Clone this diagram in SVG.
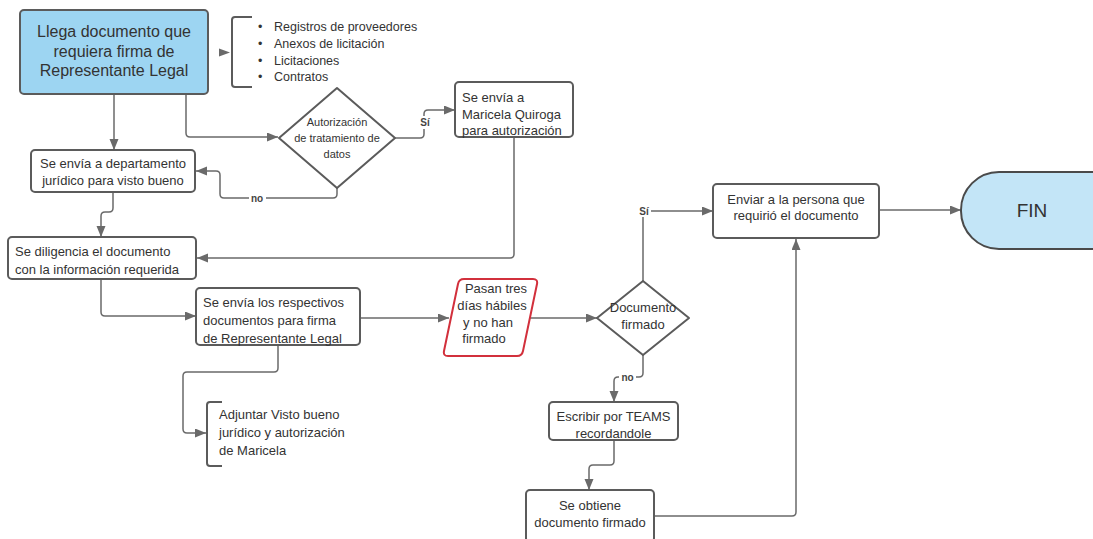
<svg xmlns="http://www.w3.org/2000/svg" width="1093" height="539" viewBox="0 0 1093 539">
<defs>
<style>
.box{fill:#fff;stroke:#5b5b5b;stroke-width:2}
.t{font-family:"Liberation Sans",Arial,sans-serif;font-size:13px;fill:#333}
.c{text-anchor:middle}
.conn path{fill:none;stroke:#6a6a6a;stroke-width:1.5}
.arr path{marker-end:url(#ah)}
.lbl{font-family:"Liberation Sans",Arial,sans-serif;font-size:10px;font-weight:bold;fill:#444;text-anchor:middle}
</style>
<marker id="ah" markerUnits="userSpaceOnUse" markerWidth="12" markerHeight="10" refX="11" refY="4.5" orient="auto">
<path d="M0,0 L11,4.5 L0,9 Z" fill="#6a6a6a"/>
</marker>
</defs>
<rect width="1093" height="539" fill="#fff"/>

<g id="connectors" class="conn">
<g class="arr">
<path d="M114,94 V150"/>
<path d="M186,94 V133 Q186,137 190,137 H278"/>
<path d="M395,138 H420 Q424,138 424,134 V114 Q424,110 428,110 H455"/>
<path d="M337,188 V194 Q337,198 333,198 H224 Q220,198 220,194 V175 Q220,171 216,171 H196"/>
<path d="M113,192 V208 Q113,212 109,212 H105 Q101,212 101,216 V237"/>
<path d="M514,137 V254 Q514,258 510,258 H197"/>
<path d="M101,279 V312 Q101,316 105,316 H196"/>
<path d="M360,318 H449"/>
<path d="M530,318 H597"/>
<path d="M643,281 V215 Q643,211 647,211 H713"/>
<path d="M643,355 V373 Q643,377 639,377 H618 Q614,377 614,381 V402"/>
<path d="M614,440 V461 Q614,465 610,465 H593 Q589,465 589,469 V490"/>
<path d="M655,516 H792 Q796,516 796,512 V239"/>
<path d="M879,210 H961"/>
<path d="M278,345 V368 Q278,372 274,372 H187 Q183,372 183,376 V429 Q183,433 187,433 H206"/>
</g>
<polygon points="219,48.5 230,52.5 219,56.5" fill="#6a6a6a"/>
<rect x="418" y="116" width="14" height="13" fill="#fff"/>
<text class="lbl" x="425" y="126">Sí</text>
<rect x="249" y="192" width="17" height="12" fill="#fff"/>
<text class="lbl" x="257" y="202">no</text>
<rect x="637" y="205" width="14" height="12" fill="#fff"/>
<text class="lbl" x="644" y="214.5">Sí</text>
<rect x="619" y="371" width="17" height="12" fill="#fff"/>
<text class="lbl" x="627.5" y="381">no</text>
</g>

<g id="n-inicio">
<rect x="20" y="10" width="188" height="84" rx="4" fill="#9dd5f2" stroke="#5b5b5b" stroke-width="2"/>
<text class="t c" style="font-size:16px" x="114" y="37">Llega documento que</text>
<text class="t c" style="font-size:16px" x="114" y="56.5">requiera firma de</text>
<text class="t c" style="font-size:16px" x="114" y="76">Representante Legal</text>
</g>

<g id="n-lista">
<path d="M252,17 H235 Q232,17 232,20 V84 Q232,87 235,87 H252" fill="none" stroke="#5b5b5b" stroke-width="2"/>
<g class="t" style="font-size:12.5px">
<text x="258" y="31">•</text><text x="274" y="31">Registros de proveedores</text>
<text x="258" y="48">•</text><text x="274" y="48">Anexos de licitación</text>
<text x="258" y="64.5">•</text><text x="274" y="64.5">Licitaciones</text>
<text x="258" y="81">•</text><text x="274" y="81">Contratos</text>
</g>
</g>

<g id="n-autorizacion">
<polygon points="337,88 395,138 337,188 279,138" fill="#fff" stroke="#5b5b5b" stroke-width="2" stroke-linejoin="round"/>
<text class="t c" style="font-size:11px" x="337" y="126">Autorización</text>
<text class="t c" style="font-size:11px" x="337" y="142">de tratamiento de</text>
<text class="t c" style="font-size:11px" x="337" y="158">datos</text>
</g>

<g id="n-maricela">
<rect class="box" x="455" y="82" width="118" height="55" rx="4"/>
<text class="t" x="462" y="102">Se envía a</text>
<text class="t" x="462" y="118.5">Maricela Quiroga</text>
<text class="t" x="462" y="135">para autorización</text>
</g>

<g id="n-juridico">
<rect class="box" x="31" y="150" width="164" height="42" rx="4"/>
<text class="t c" x="113" y="167.5">Se envía a departamento</text>
<text class="t c" x="113" y="185">jurídico para visto bueno</text>
</g>

<g id="n-diligencia">
<rect class="box" x="8" y="237" width="188" height="42" rx="4"/>
<text class="t" x="15" y="255.5">Se diligencia el documento</text>
<text class="t" x="15" y="273.5">con la información requerida</text>
</g>

<g id="n-envia-firma">
<rect class="box" x="196" y="288" width="164" height="57" rx="4"/>
<text class="t" x="203" y="307">Se envía los respectivos</text>
<text class="t" x="203" y="325">documentos para firma</text>
<text class="t" x="203" y="343">de Representante Legal</text>
</g>

<g id="n-adjuntar">
<path d="M222,402 H210 Q207,402 207,405 V463 Q207,466 210,466 H222" fill="none" stroke="#5b5b5b" stroke-width="2"/>
<text class="t" x="219" y="419">Adjuntar Visto bueno</text>
<text class="t" x="219" y="437">jurídico y autorización</text>
<text class="t" x="219" y="455">de Maricela</text>
</g>

<g id="n-pasan">
<path d="M464,279 H533 Q538,279 537,284 L523,351 Q522,356 517,356 H448 Q443,356 444,351 L458,284 Q459,279 464,279 Z" fill="#fff" stroke="#d2303c" stroke-width="2"/>
<text class="t c" x="496" y="293">Pasan tres</text>
<text class="t c" x="492" y="310">días hábiles</text>
<text class="t c" x="488" y="326.5">y no han</text>
<text class="t c" x="484" y="343">firmado</text>
</g>

<g id="n-firmado">
<polygon points="643,281 689,318 643,355 597,318" fill="#fff" stroke="#5b5b5b" stroke-width="2" stroke-linejoin="round"/>
<text class="t c" x="643" y="312">Documento</text>
<text class="t c" x="643" y="329">firmado</text>
</g>

<g id="n-teams">
<rect class="box" x="549" y="402" width="129" height="38" rx="4"/>
<text class="t c" x="613.5" y="421">Escribir por TEAMS</text>
<text class="t c" x="613.5" y="437.5">recordandole</text>
</g>

<g id="n-obtiene">
<rect class="box" x="526" y="490" width="128" height="52" rx="4"/>
<text class="t c" x="590" y="510">Se obtiene</text>
<text class="t c" x="590" y="527">documento firmado</text>
</g>

<g id="n-enviar">
<rect class="box" x="713" y="184" width="166" height="54" rx="4"/>
<text class="t c" x="796" y="203.5">Enviar a la persona que</text>
<text class="t c" x="796" y="220">requirió el documento</text>
</g>

<g id="n-fin">
<rect x="961" y="172" width="170" height="77" rx="38" fill="#c3e5f7" stroke="#4a4a4a" stroke-width="2"/>
<text class="t c" style="font-size:19px" x="1032" y="217">FIN</text>
</g>
</svg>
